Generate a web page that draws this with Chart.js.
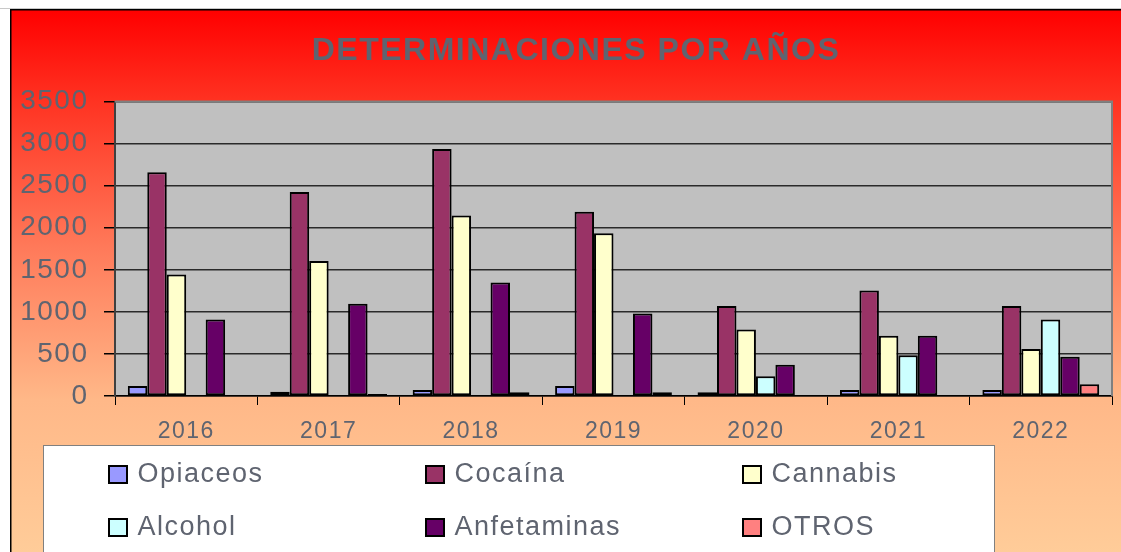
<!DOCTYPE html>
<html>
<head>
<meta charset="utf-8">
<script src="https://cdn.jsdelivr.net/npm/chart.js@4.4.1/dist/chart.umd.min.js"></script>
<style>
  html, body { margin: 0; padding: 0; background: #fff; }
  canvas { display: block; }
</style>
</head>
<body>
<canvas id="determinaciones" width="1121" height="552"></canvas>
<script>
const years = ['2016', '2017', '2018', '2019', '2020', '2021', '2022'];
const opiaceos = [120, 50, 70, 120, 45, 70, 70];
const cocaina = [2660, 2425, 2935, 2190, 1070, 1255, 1070];
const cannabis = [1445, 1605, 2145, 1935, 790, 715, 560];
const alcohol = [0, 0, 0, 0, 235, 485, 910];
const anfetaminas = [910, 1095, 1350, 980, 370, 715, 465];
const otros = [0, 25, 45, 45, 0, 0, 140];
const yTicks = [0, 500, 1000, 1500, 2000, 2500, 3000, 3500];
const title = 'DETERMINACIONES POR AÑOS';

const textColor = '#5f6470';
const fontFamily = '"Liberation Sans", Arial, sans-serif';

// fondo degradado, area gris y espaciado de letras
const backgroundPlugin = {
  id: 'background',
  beforeDraw(chart) {
    let ctx = chart.ctx;
    ctx.letterSpacing = '1.5px';
    ctx.save();
    ctx.fillStyle = '#ffffff';
    ctx.fillRect(0, 0, chart.width, chart.height);
    let grad = ctx.createLinearGradient(0, 10, 0, 552);
    grad.addColorStop(0, '#ff0000');
    grad.addColorStop(0.17, '#ff3322');
    grad.addColorStop(0.44, '#ff7a5a');
    grad.addColorStop(0.72, '#ffb888');
    grad.addColorStop(1, '#ffcc99');
    ctx.fillStyle = grad;
    ctx.fillRect(11, 10, chart.width - 11, chart.height - 10);
    ctx.fillStyle = '#c8c8c8';
    ctx.fillRect(0, 8, chart.width, 1);
    ctx.fillStyle = '#000000';
    ctx.fillRect(10, 9, chart.width - 10, 1.5);
    ctx.fillRect(10, 9, 1.5, chart.height - 9);
    let a = chart.chartArea;
    ctx.fillStyle = '#c0c0c0';
    ctx.fillRect(a.left, a.top, a.right - a.left, a.bottom - a.top);
    ctx.restore();
  },
  afterDraw(chart) {
    let ctx = chart.ctx;
    let a = chart.chartArea;
    ctx.save();
    // borde del area de trazado
    ctx.strokeStyle = '#808080';
    ctx.lineWidth = 2;
    ctx.beginPath();
    ctx.moveTo(a.left, a.top);
    ctx.lineTo(a.right, a.top);
    ctx.lineTo(a.right, a.bottom);
    ctx.stroke();

    // titulo
    ctx.fillStyle = textColor;
    ctx.font = 'bold 32px ' + fontFamily;
    ctx.textAlign = 'center';
    ctx.textBaseline = 'alphabetic';
    ctx.fillText(title, 576, 60);

    // leyenda
    ctx.fillStyle = '#ffffff';
    ctx.fillRect(44, 445, 951, 120);
    ctx.strokeStyle = '#808080';
    ctx.lineWidth = 1;
    ctx.strokeRect(43.5, 445.5, 951, 120);
    ctx.font = '27px ' + fontFamily;
    ctx.textAlign = 'left';
    ctx.textBaseline = 'middle';
    chart.data.datasets.forEach((ds, i) => {
      let col = i % 3;
      let row = Math.floor(i / 3);
      let x = 108 + col * 317;
      let y = 465 + row * 53;
      ctx.fillStyle = '#000000';
      ctx.fillRect(x, y, 20, 19);
      ctx.fillStyle = ds.backgroundColor;
      ctx.fillRect(x + 2, y + 2, 16, 15);
      ctx.fillStyle = textColor;
      ctx.fillText(ds.label, x + 29.5, y + 10);
    });
    ctx.restore();
  },
};

function dataset(label, data, color) {
  return {
    label: label,
    data: data,
    backgroundColor: color,
    borderColor: '#000000',
    borderWidth: 2,
    borderSkipped: false,
  };
}

function chart_determinaciones() {
  let ctx = document.getElementById('determinaciones').getContext('2d');
  let myChart = new Chart(ctx, {
    type: 'bar',
    data: {
      labels: years,
      datasets: [
        dataset('Opiaceos', opiaceos, '#9999ff'),
        dataset('Cocaína', cocaina, '#993366'),
        dataset('Cannabis', cannabis, '#ffffcc'),
        dataset('Alcohol', alcohol, '#ccffff'),
        dataset('Anfetaminas', anfetaminas, '#660066'),
        dataset('OTROS', otros, '#ff8080'),
      ],
    },
    options: {
      responsive: false,
      animation: false,
      devicePixelRatio: 1,
      layout: {
        padding: { left: 0, top: 101.5, right: 9, bottom: 96 },
      },
      datasets: {
        bar: {
          categoryPercentage: 0.82,
          barPercentage: 1,
        },
      },
      scales: {
        x: {
          afterFit(scale) {
            scale.height = 60;
          },
          grid: {
            offset: true,
            drawOnChartArea: false,
            tickLength: 9,
            tickColor: '#000000',
            tickWidth: 1,
          },
          border: { color: '#000000', width: 1.5 },
          ticks: {
            color: textColor,
            font: { family: fontFamily, size: 23 },
            padding: 13,
            maxRotation: 0,
          },
        },
        y: {
          min: 0,
          max: 3500,
          afterFit(scale) {
            scale.width = 115;
          },
          afterBuildTicks(scale) {
            scale.ticks = yTicks.map((v) => ({ value: v }));
          },
          grid: {
            color: '#2a2a2a',
            lineWidth: 1.5,
            tickLength: 11,
            tickColor: '#000000',
          },
          border: { color: '#404040', width: 2 },
          ticks: {
            color: textColor,
            font: { family: fontFamily, size: 28 },
            padding: 15.5,
            callback: (v) => String(v),
          },
        },
      },
      plugins: {
        legend: { display: false },
        title: { display: false },
        tooltip: { enabled: false },
      },
    },
    plugins: [backgroundPlugin],
  });
}

document.addEventListener('DOMContentLoaded', (ev) => {
  chart_determinaciones();
});
</script>
</body>
</html>
